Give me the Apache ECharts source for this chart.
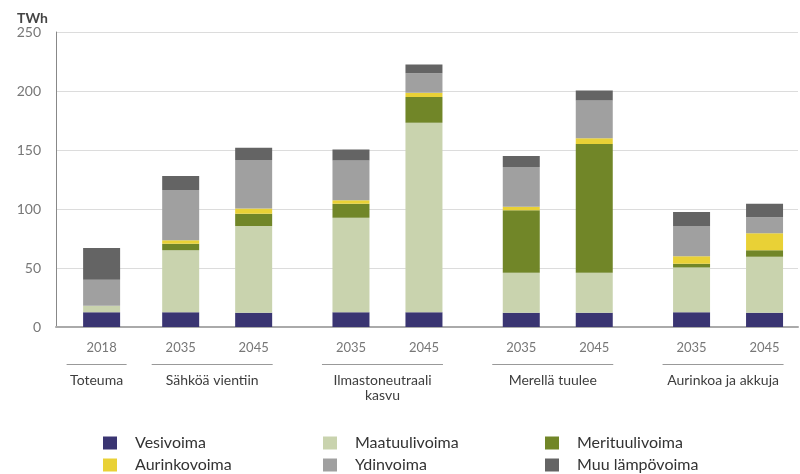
<!DOCTYPE html>
<html>
<head>
<meta charset="utf-8">
<script src="https://cdn.jsdelivr.net/npm/echarts@6/dist/echarts.min.js"></script>
<style>
  html, body { margin: 0; padding: 0; background: #fff; }
  #main { width: 800px; height: 474px; }
</style>
</head>
<body>
<div id="main"></div>
<script>
(function () {
    'use strict';

    // skenaariot ja vuodet
    var groupNames = ['Toteuma', 'Sähköä vientiin', 'Ilmastoneutraali\nkasvu', 'Merellä tuulee', 'Aurinkoa ja akkuja'];
    var yearLabels = [['2018'], ['2035', '2045'], ['2035', '2045'], ['2035', '2045'], ['2035', '2045']];
    var seriesNames = ['Vesivoima', 'Maatuulivoima', 'Merituulivoima', 'Aurinkovoima', 'Ydinvoima', 'Muu lämpövoima'];
    var seriesColors = ['#3a3572', '#c9d3ae', '#718628', '#e9d136', '#a0a0a0', '#646464'];

    // TWh, yksi arvo per pylväs
    var vesivoima = [12.5, 12.5, 12, 12.5, 12.5, 12, 12, 12.5, 12];
    var maatuulivoima = [5.5, 52.5, 73.5, 80, 160.5, 34, 34, 38, 47.5];
    var merituulivoima = [0, 5.5, 10.5, 12, 22, 53, 109, 3, 5.5];
    var aurinkovoima = [0, 3, 4.5, 3, 3.5, 3, 5, 6.5, 14.5];
    var ydinvoima = [22, 42.5, 41, 33.5, 16.5, 33.5, 32, 25.5, 13.5];
    var muuLampovoima = [27, 12, 10.5, 9.5, 7.5, 9.5, 8.5, 12, 11.5];
    var seriesValues = [vesivoima, maatuulivoima, merituulivoima, aurinkovoima, ydinvoima, muuLampovoima];

    var yTicks = [0, 50, 100, 150, 200, 250];

    // pylväiden sijoittelu kapeisiin kategoriapaikkoihin (ryhmien väliin isompi rako)
    var LEAD = 7, FIRST_GAP = 13, GROUP_GAP = 16, PAIR_GAP = 12, SLOTS = 122;
    var barSlots = [], slotLabels = [], groupSlots = [];
    var slot = LEAD;
    for (var i = 0; i < SLOTS; i++) { slotLabels.push(''); }
    yearLabels.forEach(function (yrs, g) {
        var members = [];
        yrs.forEach(function (yr, j) {
            if (barSlots.length > 0) {
                slot += j > 0 ? PAIR_GAP : (g === 1 ? FIRST_GAP : GROUP_GAP);
            }
            barSlots.push(slot);
            slotLabels[slot] = yr;
            members.push(slot);
        });
        groupSlots.push(members);
    });

    var categories = slotLabels.map(function (l, idx) { return String(idx); });

    var series = seriesNames.map(function (name, s) {
        var data = categories.map(function () { return '-'; });
        barSlots.forEach(function (sl, b) { data[sl] = seriesValues[s][b]; });
        return {
            name: name,
            type: 'bar',
            stack: 'total',
            barWidth: 37,
            itemStyle: { color: seriesColors[s] },
            data: data
        };
    });

    var font = 'Lato, "Open Sans", sans-serif';
    var legendLeft = [103, 323, 545];

    var dom = document.getElementById('main');
    var myChart = echarts.init(dom);
    var option = {
        animation: false,
        title: {
            text: 'TWh',
            left: 12,
            top: 6,
            textStyle: { fontFamily: font, fontSize: 14, fontWeight: 'bold', color: '#444' }
        },
        grid: { left: 56, top: 32, width: 742, height: 295, containLabel: false },
        legend: [0, 1, 2].map(function (c) {
            return {
                orient: 'vertical',
                left: legendLeft[c],
                top: 435,
                width: 200,
                height: 80,
                padding: 0,
                itemWidth: 14,
                itemHeight: 13,
                itemGap: 6,
                icon: 'rect',
                selectedMode: false,
                textStyle: { fontFamily: font, fontSize: 16, color: '#333', padding: [0, 0, 0, 13] },
                data: [seriesNames[c], seriesNames[c + 3]]
            };
        }),
        xAxis: {
            type: 'category',
            data: categories,
            axisTick: { show: false },
            axisLine: { lineStyle: { color: '#aaa', width: 2 } },
            axisLabel: {
                interval: 0,
                margin: 14,
                fontFamily: font,
                fontSize: 13,
                lineHeight: 14,
                color: '#777',
                formatter: function (v, idx) { return slotLabels[idx]; }
            }
        },
        yAxis: {
            type: 'value',
            min: yTicks[0],
            max: yTicks[yTicks.length - 1],
            interval: yTicks[1] - yTicks[0],
            axisLine: { show: true, lineStyle: { color: '#888', width: 1 } },
            axisTick: { show: false },
            axisLabel: { margin: 15, fontFamily: font, fontSize: 14, color: '#777' },
            splitLine: { lineStyle: { color: '#dcdcdc', width: 1 } }
        },
        series: series
    };
    myChart.setOption(option, true);

    // ryhmien alleviivaukset ja nimet
    var graphics = [];
    groupSlots.forEach(function (members, g) {
        var x0 = myChart.convertToPixel({ xAxisIndex: 0 }, members[0]);
        var x1 = myChart.convertToPixel({ xAxisIndex: 0 }, members[members.length - 1]);
        var mid = (x0 + x1) / 2 - 5;
        var half = members.length > 1 ? 60.5 : 30;
        graphics.push({
            type: 'line',
            shape: { x1: mid - half, y1: 364.5, x2: mid + half, y2: 364.5 },
            style: { stroke: '#999', lineWidth: 1 },
            silent: true
        });
        graphics.push({
            type: 'text',
            style: {
                text: groupNames[g],
                x: mid,
                y: 373,
                align: 'center',
                verticalAlign: 'top',
                lineHeight: 15,
                fontFamily: font,
                fontSize: 14,
                fill: '#3d3d3d'
            },
            silent: true
        });
    });
    myChart.setOption({ graphic: graphics });
}());
</script>
</body>
</html>
